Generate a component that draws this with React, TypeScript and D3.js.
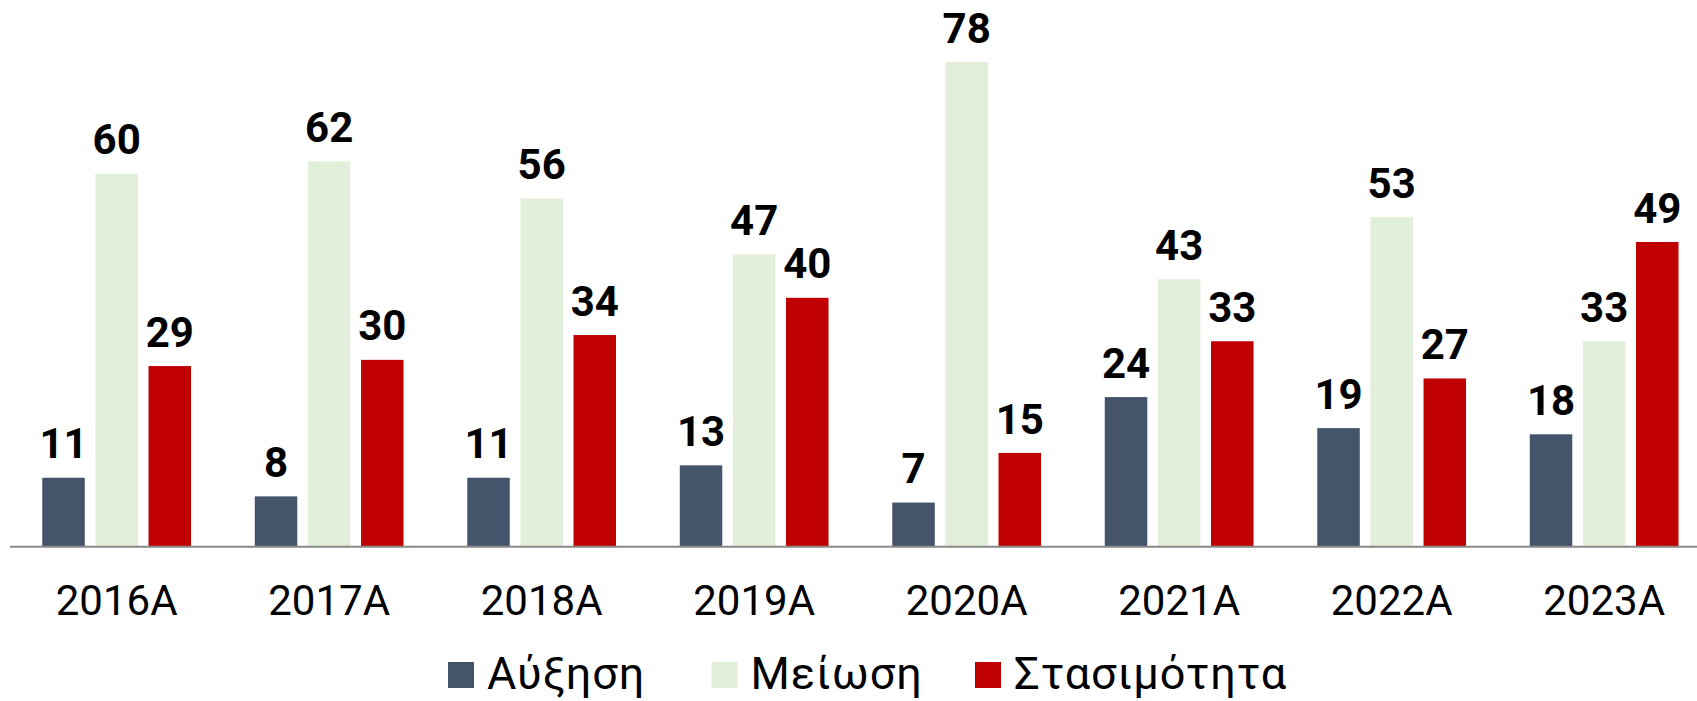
import React from "react";
import * as d3 from "d3";

const categories = ["2016A", "2017A", "2018A", "2019A", "2020A", "2021A", "2022A", "2023A"];
const seriesNames = ["Αύξηση", "Μείωση", "Στασιμότητα"];
const increase = [11, 8, 11, 13, 7, 24, 19, 18];
const decrease = [60, 62, 56, 47, 78, 43, 53, 33];
const stagnation = [29, 30, 34, 40, 15, 33, 27, 49];
const colors = ["#44546A", "#E2EFDA", "#C00000"];

const W = 1697;
const H = 701;

export default function App() {
  const seriesValues = [increase, decrease, stagnation];
  const x0 = d3.scaleBand<string>().domain(categories).range([10.4, 1710.4]).paddingInner(0.3).paddingOuter(0.15);
  const x1 = d3.scaleBand<string>().domain(seriesNames).range([0, x0.bandwidth()]).paddingInner(0.2).paddingOuter(0);
  const y = d3.scaleLinear().domain([0, 88]).range([546, 0]);

  const legendStart = 448;
  const legendStep = 263.5;

  return (
    <svg width={W} height={H} style={{ position: "absolute", left: 0, top: 0, background: "#fff" }}>
      <rect x={0} y={0} width={W} height={H} fill="#fff" />
      {categories.map((c, i) => (
        <g key={c} transform={`translate(${x0(c)},0)`}>
          {seriesNames.map((s, j) => {
            const v = seriesValues[j][i];
            const bx = x1(s)!;
            return (
              <g key={s}>
                <rect x={bx} y={y(v)} width={x1.bandwidth()} height={y(0) - y(v)} fill={colors[j]} />
                <text
                  x={bx + x1.bandwidth() / 2}
                  y={y(v) - 19.4}
                  textAnchor="middle"
                  fontFamily="Roboto, 'Noto Sans', sans-serif"
                  fontWeight={700}
                  fontSize={42}
                  fill="#000"
                >
                  {v}
                </text>
              </g>
            );
          })}
          <text
            x={x0.bandwidth() / 2}
            y={615}
            textAnchor="middle"
            fontFamily="Roboto, 'Noto Sans', sans-serif"
            fontSize={42}
            fill="#000"
          >
            {c}
          </text>
        </g>
      ))}
      <line x1={10} x2={W} y1={546.7} y2={546.7} stroke="#898989" strokeWidth={2} />
      {seriesNames.map((s, j) => (
        <g key={s} transform={`translate(${legendStart + j * legendStep},0)`}>
          <rect x={0} y={662} width={26} height={26} fill={colors[j]} />
          <text
            x={39}
            y={689}
            fontFamily="Roboto, 'Noto Sans', sans-serif"
            fontSize={45}
            letterSpacing={1}
            fill="#000"
          >
            {s}
          </text>
        </g>
      ))}
    </svg>
  );
}
